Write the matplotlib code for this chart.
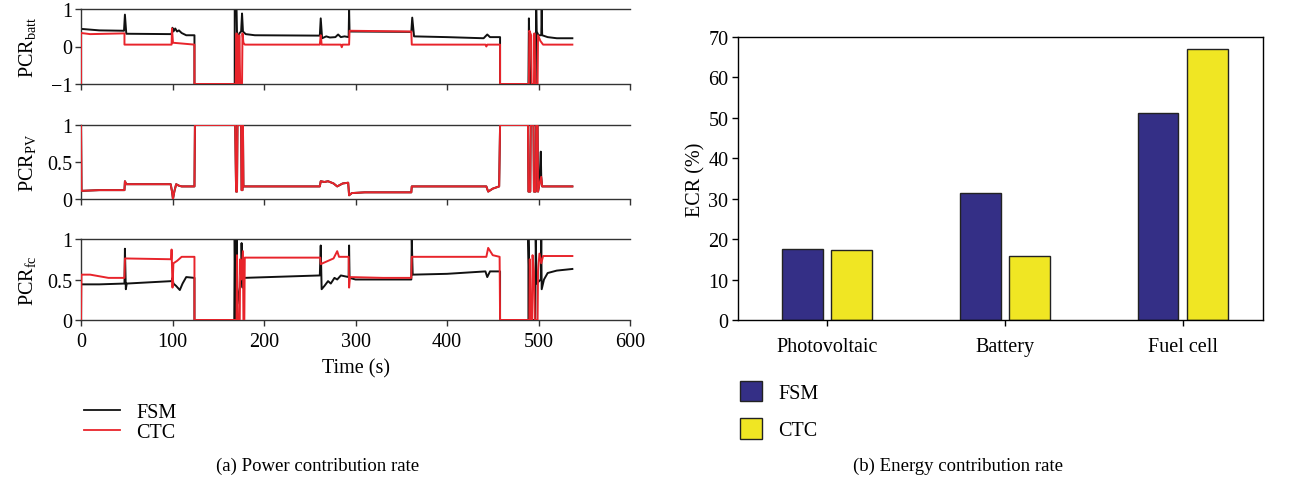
import numpy as np
import matplotlib
matplotlib.use('Agg')
import matplotlib.pyplot as plt
from matplotlib.patches import Patch
from matplotlib.lines import Line2D

plt.rcParams['font.family'] = ['Liberation Serif', 'DejaVu Serif']
plt.rcParams['mathtext.fontset'] = 'custom'
plt.rcParams['mathtext.rm'] = 'Liberation Serif'
plt.rcParams['mathtext.it'] = 'Liberation Serif:italic'

# battery power contribution rate (t [s], value)
batt_fsm_t = [0, 20, 47, 48, 49.5, 99, 100, 101, 103, 105, 107, 110, 115, 124, 124, 168, 168, 170, 171, 172,
              173, 175, 176, 177, 180, 190, 261, 262, 263.5, 268, 272, 278, 281, 284, 288, 292.5, 293, 293.5,
              361, 362, 364, 400, 440, 444, 447, 458, 458, 489, 489.5, 491, 497, 497.5, 498, 500, 503, 503.5,
              504, 510, 520, 537]
batt_fsm_v = [0.47, 0.43, 0.42, 0.85, 0.34, 0.33, 0.5, 0.4, 0.48, 0.4, 0.43, 0.36, 0.3, 0.3, -1, -1, 1, 1, -0.3, 0.2,
              0.35, 0.4, 0.88, 0.4, 0.33, 0.3, 0.29, 0.75, 0.22, 0.27, 0.24, 0.25, 0.32, 0.25, 0.27, 0.25, 1.0, 0.4,
              0.39, 0.77, 0.27, 0.25, 0.22, 0.32, 0.25, 0.25, -1, -1, 0.75, -1, -1, 1, 0.4, 0.3, 0.3, 1,
              0.3, 0.25, 0.22, 0.22]
batt_ctc_t = [0, 0, 10, 47.5, 47.5, 99, 99.5, 100.5, 110, 124, 124, 169, 170, 171, 172.5, 173, 174, 176, 176.5, 177.5,
              179, 261, 262, 263, 284, 285, 286, 293, 293.5, 361, 361.5, 442, 443, 444, 458, 458, 489.5, 490, 492,
              492.5, 495, 495.5, 496.5, 499, 499.5, 502, 505, 537]
batt_ctc_v = [-1, 0.36, 0.33, 0.35, 0.05, 0.05, 0.48, 0.1, 0.08, 0.05, -1, -1, 0.35, -1, -1, 0.3, -1, -1, 0.35, 0.1,
              0.05, 0.05, 0.3, 0.05, 0.05, -0.02, 0.05, 0.05, 0.42, 0.4, 0.05, 0.05, 0.0, 0.05, 0.05, -1, -1, 0.42, 0.3,
              -1, -1, 0.35, -1, -1, 0.3, 0.15, 0.05, 0.05]

# photovoltaic power contribution rate
pv_fsm_t = [0, 0.5, 20, 47.5, 48, 49.5, 98, 99.5, 100.5, 102, 104, 107, 110, 124, 124.5, 168.5, 169, 169.5, 170.5,
            171, 175, 175.5, 176.5, 177, 177.5, 180, 261, 262, 266, 270, 276, 280, 286, 292, 293, 296, 310, 361,
            361.5, 443, 445, 450, 457, 458, 488.5, 489, 491, 491.5, 494.5, 495, 497, 497.5, 499, 499.5, 501,
            502.5, 503, 504, 537]
pv_fsm_v = [1, 0.11, 0.12, 0.12, 0.24, 0.2, 0.2, 0.1, 0.0, 0.1, 0.2, 0.18, 0.17, 0.17, 1, 1, 0.55, 0.1, 0.1,
            1, 1, 0.12, 0.12, 1, 0.17, 0.17, 0.17, 0.24, 0.23, 0.24, 0.21, 0.17, 0.21, 0.22, 0.05, 0.08, 0.09, 0.09,
            0.17, 0.17, 0.1, 0.14, 0.17, 1, 1, 0.1, 0.1, 1, 1, 0.1, 0.1, 1, 1, 0.1, 0.2,
            0.64, 0.3, 0.17, 0.17]
pv_ctc_t = [0, 0.5, 20, 47.5, 48, 49.5, 98, 99.5, 100.5, 102, 104, 107, 110, 124, 124.5, 168.5, 169.5, 170.5,
            171, 175, 175.5, 176.5, 177, 177.5, 180, 261, 262, 266, 270, 276, 280, 286, 292, 293, 296, 310, 361,
            361.5, 443, 445, 450, 457, 458, 488.5, 489, 491, 491.5, 494.5, 495, 497, 497.5, 499, 499.5, 501,
            503, 504, 537]
pv_ctc_v = [1, 0.11, 0.12, 0.12, 0.24, 0.2, 0.2, 0.1, 0.0, 0.1, 0.2, 0.18, 0.17, 0.17, 1, 1, 0.1, 0.1,
            1, 1, 0.12, 0.12, 1, 0.17, 0.17, 0.17, 0.24, 0.23, 0.24, 0.21, 0.17, 0.21, 0.22, 0.05, 0.08, 0.09, 0.09,
            0.17, 0.17, 0.1, 0.14, 0.17, 1, 1, 0.1, 0.1, 1, 1, 0.1, 0.1, 1, 1, 0.1, 0.2,
            0.3, 0.17, 0.17]

# fuel cell power contribution rate
fc_fsm_t = [0, 20, 47.5, 48, 49, 50, 99, 100, 101, 104, 108, 111, 115, 124, 124, 167.5, 168, 169, 170, 171, 175,
            175.5, 176.5, 178, 261, 262, 263, 266, 270, 273, 277, 280, 284, 292.5, 293, 293.5, 300, 361, 361.5,
            362.5, 400, 442, 444, 447, 458, 458, 489, 489, 490, 491, 496.5, 497, 498, 502.5, 503, 503.5, 506,
            510, 520, 537]
fc_fsm_v = [0.44, 0.44, 0.45, 0.88, 0.38, 0.45, 0.48, 0.52, 0.45, 0.42, 0.37, 0.45, 0.53, 0.52, 0, 0, 1, 0, 1, 0.2, 0.5,
            0.95, 0.4, 0.52, 0.55, 0.92, 0.38, 0.42, 0.48, 0.45, 0.52, 0.5, 0.55, 0.53, 0.92, 0.52, 0.5, 0.5, 1.0,
            0.56, 0.57, 0.6, 0.53, 0.6, 0.6, 0, 0, 1, 0.45, 0, 0, 1, 0.45, 0.5, 1, 0.38, 0.5,
            0.58, 0.61, 0.63]
fc_ctc_t = [0, 0.5, 10, 30, 47.5, 48, 98.5, 99, 100, 101, 105, 110, 124, 124, 170, 170.5, 171.5, 173.5, 174, 175,
            177, 177.5, 178.5, 179, 261.5, 262, 268, 276, 280, 282, 292.5, 293, 294, 330, 361, 361.5, 443, 445,
            450, 457.5, 458, 490, 490.5, 491.5, 493, 493.5, 495, 496, 499, 499.5, 501, 503, 505, 537]
fc_ctc_v = [0, 0.56, 0.56, 0.52, 0.52, 0.76, 0.75, 0.87, 0.4, 0.7, 0.73, 0.78, 0.78, 0, 0, 0.8, 0, 0, 0.75, 0.5,
            0.85, 0, 0, 0.77, 0.77, 0.69, 0.72, 0.76, 0.85, 0.78, 0.78, 0.4, 0.53, 0.52, 0.52, 0.78, 0.78, 0.89,
            0.8, 0.78, 0, 0, 0.75, 0, 0, 0.8, 0.6, 0, 0, 0.6, 0.82, 0.7, 0.79, 0.79]

# energy contribution rate (%)
sources = ['Photovoltaic', 'Battery', 'Fuel cell']
ecr_fsm = [17.6, 31.3, 51.3]
ecr_ctc = [17.4, 15.8, 67.0]

black = '#111111'
red = '#e8242b'
navy = '#342f86'
yellow = '#f0e623'
fs = 14.5

fig = plt.figure(figsize=(12.89, 4.89), dpi=100)

W, H = 1289.0, 489.0
def box(x0, y0, x1, y1):
    return [x0 / W, 1 - y1 / H, (x1 - x0) / W, (y1 - y0) / H]

panels = [
    (box(81, 10, 630, 85), batt_fsm_t, batt_fsm_v, batt_ctc_t, batt_ctc_v, (-1, 1), [-1, 0, 1], ['\u22121', '0', '1'],
     'PCR$_{\\mathrm{batt}}$'),
    (box(81, 126, 630, 200), pv_fsm_t, pv_fsm_v, pv_ctc_t, pv_ctc_v, (0, 1), [0, 0.5, 1], ['0', '0.5', '1'],
     'PCR$_{\\mathrm{PV}}$'),
    (box(81, 240, 630, 321), fc_fsm_t, fc_fsm_v, fc_ctc_t, fc_ctc_v, (0, 1), [0, 0.5, 1], ['0', '0.5', '1'],
     'PCR$_{\\mathrm{fc}}$'),
]

axs = []
for i, (pos, ft, fv, ct, cv, ylim, yt, ytl, ylab) in enumerate(panels):
    ax = fig.add_axes(pos)
    ax.plot(ft, fv, color=black, lw=1.4, zorder=2)
    ax.plot(ct, cv, color=red, lw=1.4, zorder=3)
    ax.set_xlim(0, 600)
    ax.set_ylim(*ylim)
    ax.set_yticks(yt)
    ax.set_yticklabels(ytl)
    ax.set_xticks(range(0, 601, 100))
    if i < 2:
        ax.set_xticklabels([])
    ax.spines['right'].set_visible(False)
    for s in ax.spines.values():
        s.set_linewidth(1.0)
        s.set_color('#333333')
    ax.tick_params(direction='out', length=4, width=1, labelsize=fs, colors='#333333', labelcolor='black', pad=2)
    ax.set_ylabel(ylab, fontsize=fs)
    ax.yaxis.set_label_coords(-0.078, 0.5)
    axs.append(ax)

axs[2].tick_params(axis='x', pad=5)
axs[2].set_xlabel('Time (s)', fontsize=fs, labelpad=5)

handles = [Line2D([], [], color=black, lw=1.3), Line2D([], [], color=red, lw=1.3)]
fig.legend(handles, ['FSM', 'CTC'], loc='upper left', bbox_to_anchor=(0.059, 0.19), frameon=False,
           fontsize=fs, handlelength=1.8, handletextpad=0.8, labelspacing=0.05, borderaxespad=0)

# bar chart of energy shares
bx = fig.add_axes(box(738, 38, 1263, 321))
x = np.arange(len(sources))
w = 0.23
bx.bar(x - 0.14, ecr_fsm, w, color=navy, edgecolor='#222222', linewidth=1.0, label='FSM')
bx.bar(x + 0.14, ecr_ctc, w, color=yellow, edgecolor='#222222', linewidth=1.0, label='CTC')
bx.set_xlim(-0.5, 2.45)
bx.set_ylim(0, 70)
bx.set_yticks(range(0, 71, 10))
bx.set_xticks(x)
bx.set_xticklabels(sources)
bx.set_ylabel('ECR (%)', fontsize=fs, labelpad=2)
bx.tick_params(direction='out', length=4, width=1, labelsize=fs, pad=3)
bx.tick_params(axis='x', pad=8)
for s in bx.spines.values():
    s.set_linewidth(1.0)

bh = [Patch(facecolor=navy, edgecolor='#222222'), Patch(facecolor=yellow, edgecolor='#222222')]
fig.legend(bh, ['FSM', 'CTC'], loc='upper left', bbox_to_anchor=(0.568, 0.236), frameon=False,
           fontsize=fs, handlelength=1.1, handleheight=1.2, handletextpad=0.8, labelspacing=0.75,
           borderaxespad=0)

fig.text(318 / W, 1 - 466 / H, '(a) Power contribution rate', ha='center', va='center', fontsize=fs - 1)
fig.text(958 / W, 1 - 466 / H, '(b) Energy contribution rate', ha='center', va='center', fontsize=fs - 1)

plt.savefig('out.png', dpi=100)
